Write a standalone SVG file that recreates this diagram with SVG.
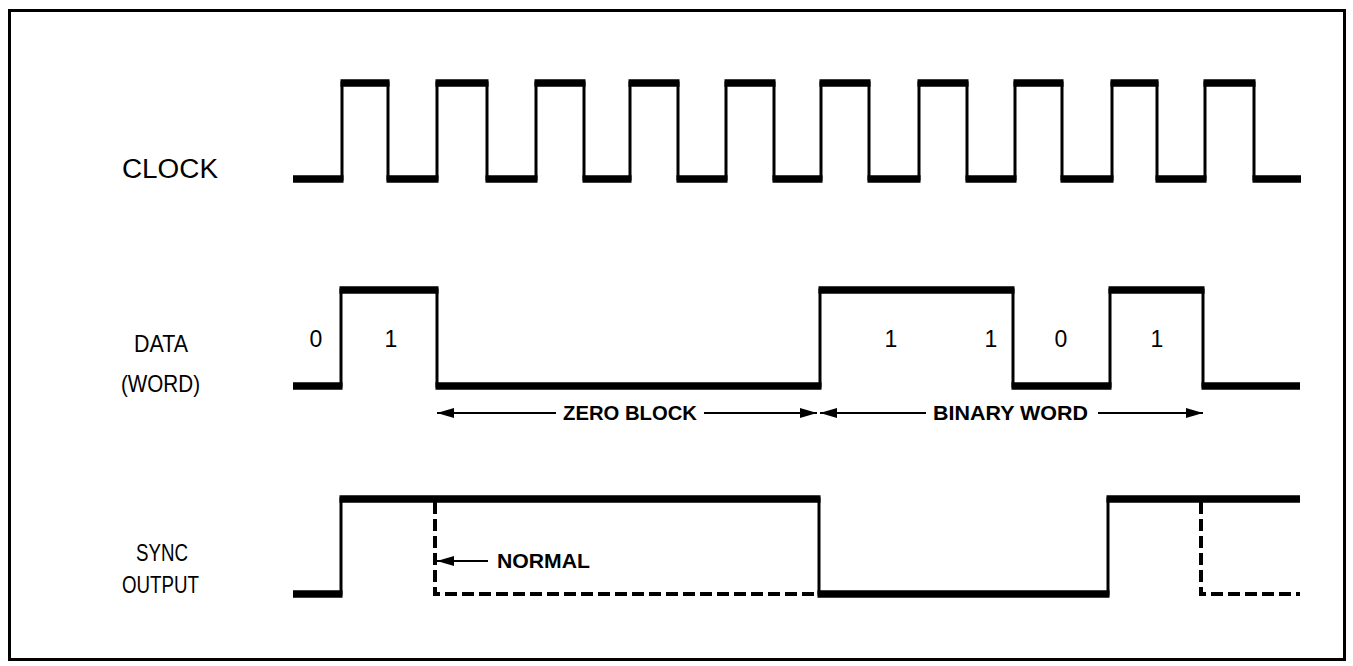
<svg xmlns="http://www.w3.org/2000/svg" width="1353" height="666" viewBox="0 0 1353 666">
<defs>
<marker id="ah" markerUnits="userSpaceOnUse" markerWidth="18" markerHeight="12" viewBox="0 0 18 12" refX="17" refY="6" orient="auto-start-reverse">
<path d="M0,1 L17,6 L0,11 Z" fill="#000"/>
</marker>
</defs>
<style>
.thin{fill:none;stroke:#000;stroke-width:3;stroke-linejoin:miter}
.thick{fill:none;stroke:#000;stroke-width:7.5;stroke-linecap:butt}
.dash{fill:none;stroke:#000;stroke-width:4;stroke-dasharray:12 5}
.arr{fill:none;stroke:#000;stroke-width:2.2}
.lbl{font-family:"Liberation Sans",Arial,sans-serif;font-size:26px;fill:#000}
.dig{font-family:"Liberation Sans",Arial,sans-serif;font-size:23px;fill:#000;text-anchor:middle}
.bold{font-family:"Liberation Sans",Arial,sans-serif;font-size:21px;font-weight:bold;fill:#000}
</style>
<rect x="9.5" y="10.5" width="1335" height="649" fill="#fff" stroke="#000" stroke-width="3"/>

<g id="clock">
<text class="lbl" x="122" y="178" textLength="96" lengthAdjust="spacingAndGlyphs" style="font-size:27px">CLOCK</text>
<path class="thin" d="M293 179 H342 V83 H388 V179 H437 V83 H487 V179 H536 V83 H584 V179 H630 V83 H678 V179 H726 V83 H774 V179 H821 V83 H869 V179 H919 V83 H967 V179 H1015 V83 H1062 V179 H1112 V83 H1157 V179 H1205 V83 H1254 V179 H1301"/>
<path class="thick" d="M293 179 H343.5 M386.5 179 H438.5 M485.5 179 H537.5 M582.5 179 H631.5 M676.5 179 H727.5 M772.5 179 H822.5 M867.5 179 H920.5 M965.5 179 H1016.5 M1060.5 179 H1113.5 M1155.5 179 H1206.5 M1252.5 179 H1301 M340.5 83 H389.5 M435.5 83 H488.5 M534.5 83 H585.5 M628.5 83 H679.5 M724.5 83 H775.5 M819.5 83 H870.5 M917.5 83 H968.5 M1013.5 83 H1063.5 M1110.5 83 H1158.5 M1203.5 83 H1255.5"/>
</g>

<g id="data">
<text class="lbl" x="134" y="352" textLength="54" lengthAdjust="spacingAndGlyphs" style="font-size:24px">DATA</text>
<text class="lbl" x="121" y="392" textLength="79" lengthAdjust="spacingAndGlyphs" style="font-size:24px">(WORD)</text>
<path class="thin" d="M293 386 H341 V290 H437 V386 H820 V290 H1013 V386 H1110 V290 H1203 V386 H1300"/>
<path class="thick" d="M293 386 H342.5 M339.5 290 H438.5 M435.5 386 H821.5 M818.5 290 H1014.5 M1011.5 386 H1111.5 M1108.5 290 H1204.5 M1201.5 386 H1300"/>
<text class="dig" x="316" y="347">0</text>
<text class="dig" x="391" y="347">1</text>
<text class="dig" x="891" y="347">1</text>
<text class="dig" x="991" y="347">1</text>
<text class="dig" x="1061" y="347">0</text>
<text class="dig" x="1157" y="347">1</text>
</g>

<g id="sync">
<text class="lbl" x="136" y="561" textLength="52" lengthAdjust="spacingAndGlyphs" style="font-size:24px">SYNC</text>
<text class="lbl" x="122" y="593" textLength="77" lengthAdjust="spacingAndGlyphs" style="font-size:24px">OUTPUT</text>
<path class="thin" d="M293 594 H341 V499 H819 V594 H1108 V499 H1300"/>
<path class="thick" d="M293 594 H342.5 M339.5 499 H820.5 M817.5 594 H1109.5 M1106.5 499 H1300"/>
<path class="dash" d="M435 502 V594 H817"/>
<path class="dash" d="M1201 502 V594 H1300"/>
</g>

<g id="connectors">
<line class="arr" x1="437" y1="413" x2="556" y2="413" marker-start="url(#ah)"/>
<line class="arr" x1="704" y1="413" x2="817" y2="413" marker-end="url(#ah)"/>
<line class="arr" x1="820" y1="413" x2="926" y2="413" marker-start="url(#ah)"/>
<line class="arr" x1="1098" y1="413" x2="1203" y2="413" marker-end="url(#ah)"/>
<line class="arr" x1="488" y1="561" x2="437" y2="561" marker-end="url(#ah)"/>
</g>

<g id="labels">
<text class="bold" x="563" y="420" textLength="134" lengthAdjust="spacingAndGlyphs">ZERO BLOCK</text>
<text class="bold" x="933" y="420" textLength="155" lengthAdjust="spacingAndGlyphs">BINARY WORD</text>
<text class="bold" x="497" y="568" textLength="93" lengthAdjust="spacingAndGlyphs">NORMAL</text>
</g>
</svg>
